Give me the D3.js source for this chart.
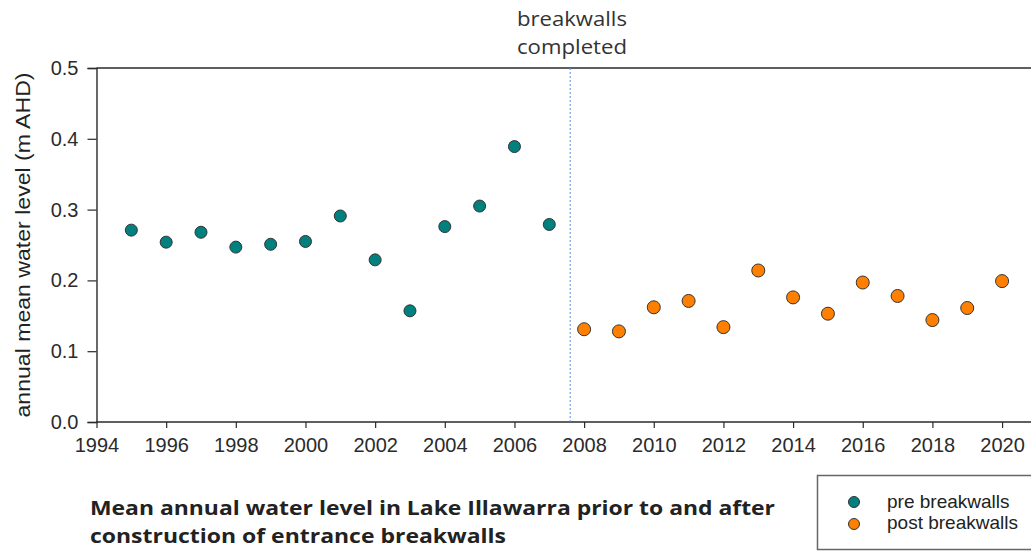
<!DOCTYPE html>
<html>
<head>
<meta charset="utf-8">
<script src="https://cdn.jsdelivr.net/npm/d3@7"></script>
<style>
  body { margin: 0; background: #fff; }
  #chart { width: 1031px; height: 551px; }
</style>
</head>
<body>
<div id="chart"></div>
<script>
const preYears = [1995,1996,1997,1998,1999,2000,2001,2002,2003,2004,2005,2006,2007];
const preLevels = [0.271,0.254,0.268,0.247,0.251,0.255,0.291,0.229,0.157,0.276,0.305,0.389,0.279];
const postYears = [2008,2009,2010,2011,2012,2013,2014,2015,2016,2017,2018,2019,2020];
const postLevels = [0.131,0.128,0.162,0.171,0.134,0.214,0.176,0.153,0.197,0.178,0.144,0.161,0.199];
const xTicks = [1994,1996,1998,2000,2002,2004,2006,2008,2010,2012,2014,2016,2018,2020];
const yTicks = [0,0.1,0.2,0.3,0.4,0.5];
const breakwallYear = 2007.6;
const seriesNames = ['pre breakwalls', 'post breakwalls'];
const colors = ['#00807f', '#ff8000'];

const W = 1031, H = 551;
const svg = d3.select('#chart').append('svg').attr('width', W).attr('height', H);

const x = d3.scaleLinear().domain([1994, 2021]).range([96.5, 1036.9]);
const y = d3.scaleLinear().domain([0, 0.5]).range([422, 68]);

const axisFont = 'Liberation Sans, Arial, sans-serif';

// top frame line
svg.append('line').attr('x1', x(1994)).attr('x2', W).attr('y1', y(0.5)).attr('y2', y(0.5))
  .attr('stroke', '#2a2a2a').attr('stroke-width', 1.4);

const xAxis = svg.append('g').attr('transform', `translate(0,${y(0)})`)
  .call(d3.axisBottom(x).tickValues(xTicks).tickFormat(d3.format('d')).tickSizeOuter(0).tickSize(6).tickPadding(10));
const yAxis = svg.append('g').attr('transform', `translate(${x(1994)},0)`)
  .call(d3.axisLeft(y).tickValues(yTicks).tickFormat(d3.format('.1f')).tickSizeOuter(0).tickSize(9).tickPadding(9));

[xAxis, yAxis].forEach(a => {
  a.select('.domain').attr('stroke', '#2a2a2a').attr('stroke-width', 1.4);
  a.selectAll('.tick line').attr('stroke', '#2a2a2a').attr('stroke-width', 1.2);
  a.selectAll('.tick text').attr('fill', '#2b2b2b').style('font-family', axisFont).style('font-size', '20px');
});
xAxis.select('.domain').attr('d', `M${x(1994)},0H${W}`);

// y axis title
svg.append('text')
  .attr('transform', `translate(30,${(y(0) + y(0.5)) / 2}) rotate(-90)`)
  .attr('text-anchor', 'middle')
  .attr('textLength', 345).attr('lengthAdjust', 'spacingAndGlyphs')
  .style('font-family', axisFont).style('font-size', '21px').attr('fill', '#222')
  .text('annual mean water level (m AHD)');

// breakwall marker
svg.append('line').attr('x1', x(breakwallYear)).attr('x2', x(breakwallYear))
  .attr('y1', y(0.5)).attr('y2', y(0))
  .attr('stroke', '#5b8ee0').attr('stroke-width', 1).attr('stroke-dasharray', '2,2');
svg.append('text').attr('text-anchor', 'middle')
  .style('font-family', 'Open Sans, sans-serif').style('font-size', '20px').attr('fill', '#333')
  .selectAll('tspan').data(['breakwalls', 'completed']).enter().append('tspan')
  .attr('x', 572).attr('y', (d, i) => 26 + i * 28)
  .attr('textLength', 110).attr('lengthAdjust', 'spacingAndGlyphs')
  .text(d => d);

// points
const pre = preYears.map((yr, i) => ({ yr, v: preLevels[i] }));
const post = postYears.map((yr, i) => ({ yr, v: postLevels[i] }));
svg.append('g').selectAll('circle').data(pre).enter().append('circle')
  .attr('cx', d => x(d.yr)).attr('cy', d => y(d.v)).attr('r', 6)
  .attr('fill', colors[0]).attr('stroke', '#333').attr('stroke-width', 1);
svg.append('g').selectAll('circle').data(post).enter().append('circle')
  .attr('cx', d => x(d.yr)).attr('cy', d => y(d.v)).attr('r', 6.5)
  .attr('fill', colors[1]).attr('stroke', '#333').attr('stroke-width', 1);

// title
const titleLines = ['Mean annual water level in Lake Illawarra prior to and after', 'construction of entrance breakwalls'];
const titleLens = [685, 416];
svg.append('text').style('font-family', 'Open Sans, sans-serif').style('font-size', '20px')
  .style('font-weight', 'bold').attr('fill', '#222')
  .selectAll('tspan').data(titleLines).enter().append('tspan')
  .attr('x', 90).attr('y', (d, i) => 515 + i * 28)
  .attr('textLength', (d, i) => titleLens[i]).attr('lengthAdjust', 'spacingAndGlyphs')
  .text(d => d);

// legend
const lg = svg.append('g');
lg.append('rect').attr('x', 817.5).attr('y', 475.5).attr('width', 230).attr('height', 74)
  .attr('fill', '#fff').attr('stroke', '#666').attr('stroke-width', 1.5);
seriesNames.forEach((name, i) => {
  lg.append('circle').attr('cx', 854).attr('cy', 502 + i * 22).attr('r', 5.5)
    .attr('fill', colors[i]).attr('stroke', '#333').attr('stroke-width', 1);
  lg.append('text').attr('x', 887).attr('y', 508 + i * 21)
    .style('font-family', axisFont).style('font-size', '19px').attr('fill', '#222').text(name);
});
</script>
</body>
</html>
